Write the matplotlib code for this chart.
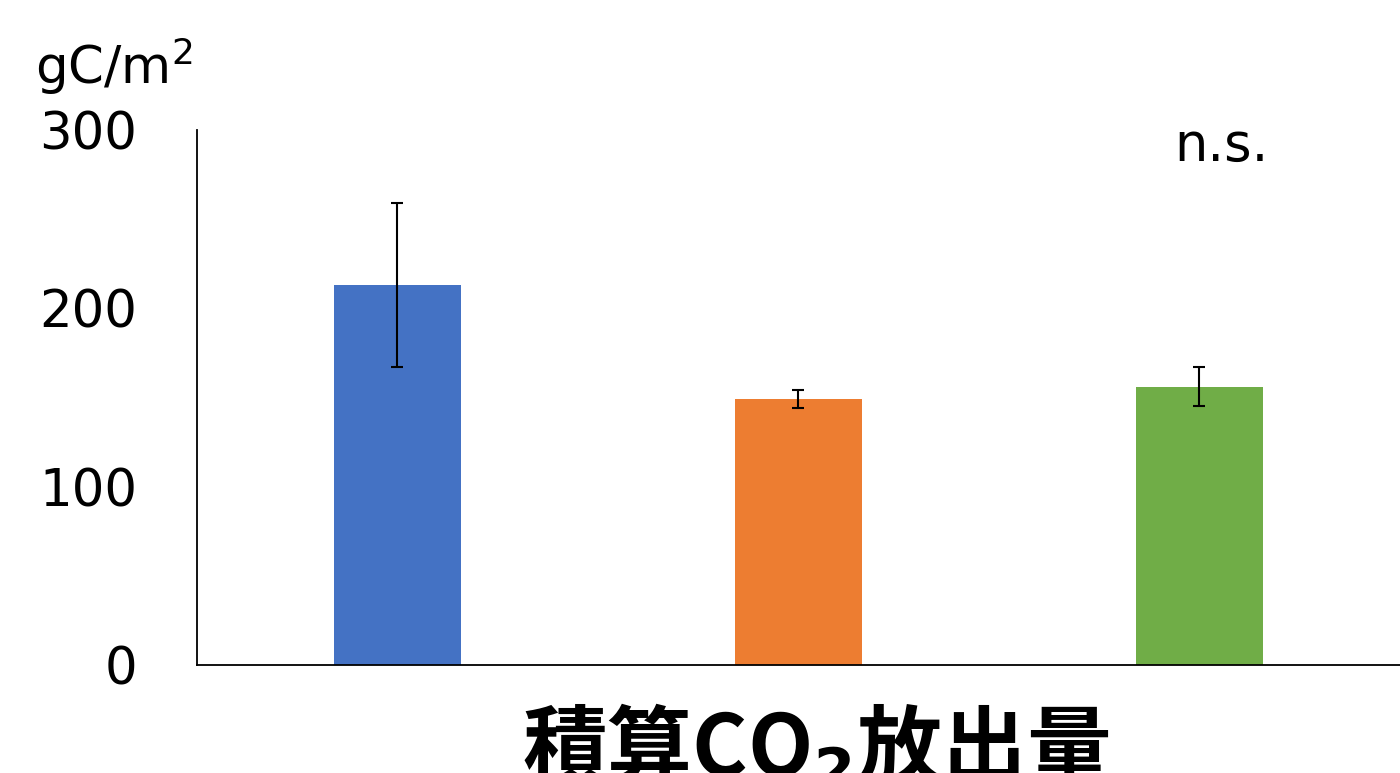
import numpy as np
import matplotlib
matplotlib.use("Agg")
import matplotlib.pyplot as plt

plt.rcParams['font.family'] = ['DejaVu Sans', 'Noto Sans CJK JP']

# integrated CO2 efflux, mean and error per treatment
groups = ["A", "B", "C"]
means = [213, 149, 156]
errors = [46, 5, 11]
colors = ["#4472C4", "#ED7D31", "#70AD47"]
yticks = [0, 100, 200, 300]

fig = plt.figure(figsize=(14, 7.73), dpi=100)
ax = fig.add_axes([0.1407, 0.1397, 0.8593, 0.6921])

x = np.arange(len(groups))
ax.bar(x, means, width=0.315, color=colors, zorder=2)
ax.errorbar(x, means, yerr=errors, fmt='none', ecolor='black',
            elinewidth=1.5, capsize=4.5, capthick=1.5, zorder=3)

ax.set_xlim(-0.5, 2.5)
ax.set_ylim(0, 300)
ax.set_yticks(yticks)
ax.set_yticklabels([str(t) for t in yticks], fontsize=37)
ax.set_xticks([])
ax.tick_params(axis='y', length=0, pad=43)
for side in ['top', 'right']:
    ax.spines[side].set_visible(False)
ax.spines['left'].set_linewidth(1.3)
ax.spines['bottom'].set_linewidth(1.3)

fig.text(0.025, 0.915, "gC/m$^2$", fontsize=37, va='center', ha='left')
ax.text(2.055, 291, "n.s.", fontsize=38, ha='center', va='center')

fig.text(0.583, 0.03, "積算CO$_\\mathbf{2}$放出量", fontsize=61, fontweight='bold',
         ha='center', va='center', family=['Noto Sans CJK JP', 'DejaVu Sans'])

fig.savefig("out.png", dpi=100)
